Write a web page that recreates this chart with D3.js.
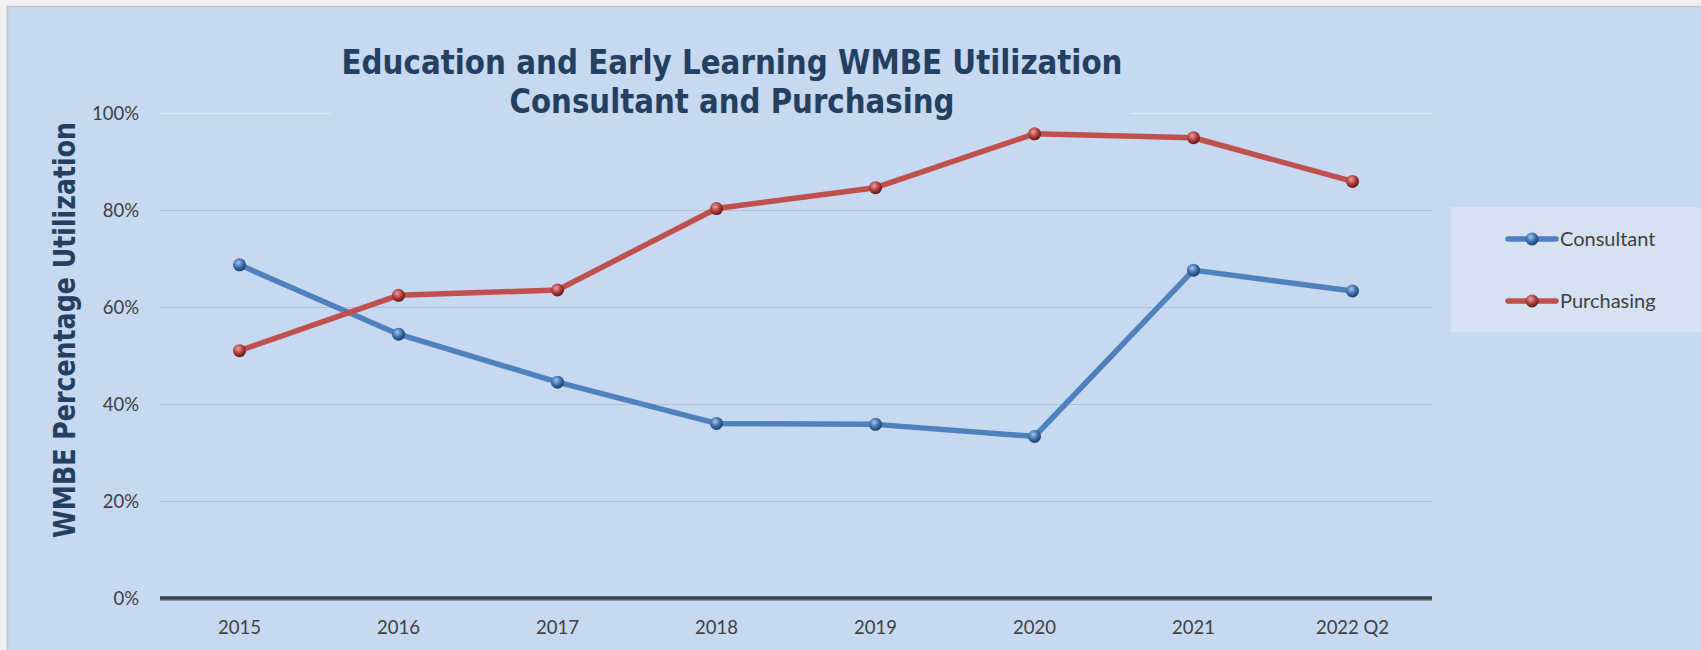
<!DOCTYPE html>
<html>
<head>
<meta charset="utf-8">
<script src="https://cdn.jsdelivr.net/npm/d3@7"></script>
<style>
  body { margin: 0; background: #f2f2f2; }
  svg { display: block; }
</style>
</head>
<body>
<svg id="chart" width="1701" height="650"></svg>
<script>
const categories = ["2015", "2016", "2017", "2018", "2019", "2020", "2021", "2022 Q2"]
const consultant = [68.7, 54.4, 44.5, 36.0, 35.8, 33.3, 67.6, 63.3]
const purchasing = [51.0, 62.4, 63.5, 80.3, 84.6, 95.7, 94.9, 85.9]
const yTicks = [0, 20, 40, 60, 80, 100]
const seriesNames = ["Consultant", "Purchasing"]
const seriesColors = ["#4f81bd", "#c0504d"]

const titleLines = ["Education and Early Learning WMBE Utilization", "Consultant and Purchasing"]
const titleWidths = [781, 445]
const yTitle = "WMBE Percentage Utilization"

const plot = { left: 160, right: 1432, top: 113, bottom: 598 }

const svg = d3.select("#chart")

const defs = svg.append("defs")
function sphere(id, light, base, dark) {
    const g = defs.append("radialGradient").attr("id", id)
        .attr("cx", "40%").attr("cy", "35%").attr("r", "65%")
    g.append("stop").attr("offset", "0%").attr("stop-color", light)
    g.append("stop").attr("offset", "55%").attr("stop-color", base)
    g.append("stop").attr("offset", "100%").attr("stop-color", dark)
}
sphere("ball0", "#a9c6ea", "#3d6fae", "#1f3f66")
sphere("ball1", "#eaa19f", "#b1403d", "#5e1a19")

// chart area
svg.append("rect")
    .attr("x", 7.5).attr("y", 6.5).attr("width", 1710).attr("height", 660)
    .attr("fill", "#c6d9f0").attr("stroke", "#c3c3c3").attr("stroke-width", 1.5)

const x = d3.scaleBand().domain(categories).range([plot.left, plot.right])
const y = d3.scaleLinear().domain([0, 100]).range([plot.bottom, plot.top])

// gridlines
svg.append("g").selectAll("line")
    .data(yTicks.filter(d => d > 0))
    .join("line")
    .attr("x1", plot.left).attr("x2", plot.right)
    .attr("y1", d => y(d) + 0.5).attr("y2", d => y(d) + 0.5)
    .attr("stroke", d => d === 100 ? "#e2e9f2" : "#b7bec8")
    .attr("stroke-width", 1)

// y axis
const yAxis = d3.axisLeft(y).tickValues(yTicks).tickSize(0).tickPadding(0)
    .tickFormat(d => d + "%")
const yg = svg.append("g").attr("transform", "translate(139,0)").call(yAxis)
yg.select(".domain").remove()
yg.selectAll("text")
    .attr("font-family", "Lato, 'Open Sans', sans-serif")
    .attr("font-size", 18.5).attr("fill", "#404040").attr("dy", "0.35em")

// x axis
const xAxis = d3.axisBottom(x).tickSize(0).tickPadding(0)
const xg = svg.append("g").attr("transform", "translate(0," + plot.bottom + ")").call(xAxis)
xg.select(".domain").remove()
xg.selectAll("text")
    .attr("font-family", "Lato, 'Open Sans', sans-serif")
    .attr("font-size", 18.5).attr("fill", "#404040").attr("y", 36).attr("dy", 0)

svg.append("line")
    .attr("x1", plot.left).attr("x2", plot.right)
    .attr("y1", plot.bottom + 2.5).attr("y2", plot.bottom + 2.5)
    .attr("stroke", "#8a929e").attr("stroke-width", 1)
svg.append("line")
    .attr("x1", plot.left).attr("x2", plot.right)
    .attr("y1", plot.bottom).attr("y2", plot.bottom)
    .attr("stroke", "#3a3d42").attr("stroke-width", 3.5)

// lines and markers
const series = [consultant, purchasing]
const line = d3.line()
    .x((d, i) => x(categories[i]) + x.bandwidth() / 2)
    .y(d => y(d))

series.forEach((vals, s) => {
    svg.append("path")
        .datum(vals)
        .attr("d", line)
        .attr("fill", "none")
        .attr("stroke", seriesColors[s])
        .attr("stroke-width", 5.5)
        .attr("stroke-linejoin", "round")
        .attr("stroke-linecap", "round")
    svg.append("g").selectAll("circle")
        .data(vals)
        .join("circle")
        .attr("cx", (d, i) => x(categories[i]) + x.bandwidth() / 2)
        .attr("cy", d => y(d))
        .attr("r", 6.5)
        .attr("fill", "url(#ball" + s + ")")
})

// title, with a box hiding the top gridline
svg.append("rect")
    .attr("x", 331).attr("y", 40).attr("width", 799).attr("height", 82)
    .attr("fill", "#c6d9f0")
svg.append("g").selectAll("text")
    .data(titleLines)
    .join("text")
    .attr("x", 732)
    .attr("y", (d, i) => 74 + i * 39)
    .attr("text-anchor", "middle")
    .attr("font-family", "'DejaVu Sans Condensed', 'DejaVu Sans', sans-serif")
    .attr("font-weight", "bold")
    .attr("font-size", 33)
    .attr("textLength", (d, i) => titleWidths[i])
    .attr("lengthAdjust", "spacingAndGlyphs")
    .attr("fill", "#243f60")
    .text(d => d)

// y title
svg.append("text")
    .attr("transform", "translate(75,330) rotate(-90)")
    .attr("text-anchor", "middle")
    .attr("font-family", "'DejaVu Sans Condensed', 'DejaVu Sans', sans-serif")
    .attr("font-weight", "bold")
    .attr("font-size", 30)
    .attr("textLength", 416)
    .attr("lengthAdjust", "spacingAndGlyphs")
    .attr("fill", "#243f60")
    .text(yTitle)

// legend
svg.append("rect")
    .attr("x", 1451).attr("y", 207).attr("width", 260).attr("height", 125)
    .attr("fill", "#d6e2f2")
const lg = svg.append("g").selectAll("g")
    .data(seriesNames)
    .join("g")
    .attr("transform", (d, i) => "translate(0," + (239 + i * 62) + ")")
lg.append("line")
    .attr("x1", 1508).attr("x2", 1556)
    .attr("stroke", (d, i) => seriesColors[i])
    .attr("stroke-width", 5.5).attr("stroke-linecap", "round")
lg.append("circle")
    .attr("cx", 1532).attr("r", 6.5)
    .attr("fill", (d, i) => "url(#ball" + i + ")")
lg.append("text")
    .attr("x", 1560).attr("dy", "0.35em")
    .attr("font-family", "Lato, 'Open Sans', sans-serif")
    .attr("font-size", 20).attr("fill", "#404040")
    .text(d => d)
</script>
</body>
</html>
